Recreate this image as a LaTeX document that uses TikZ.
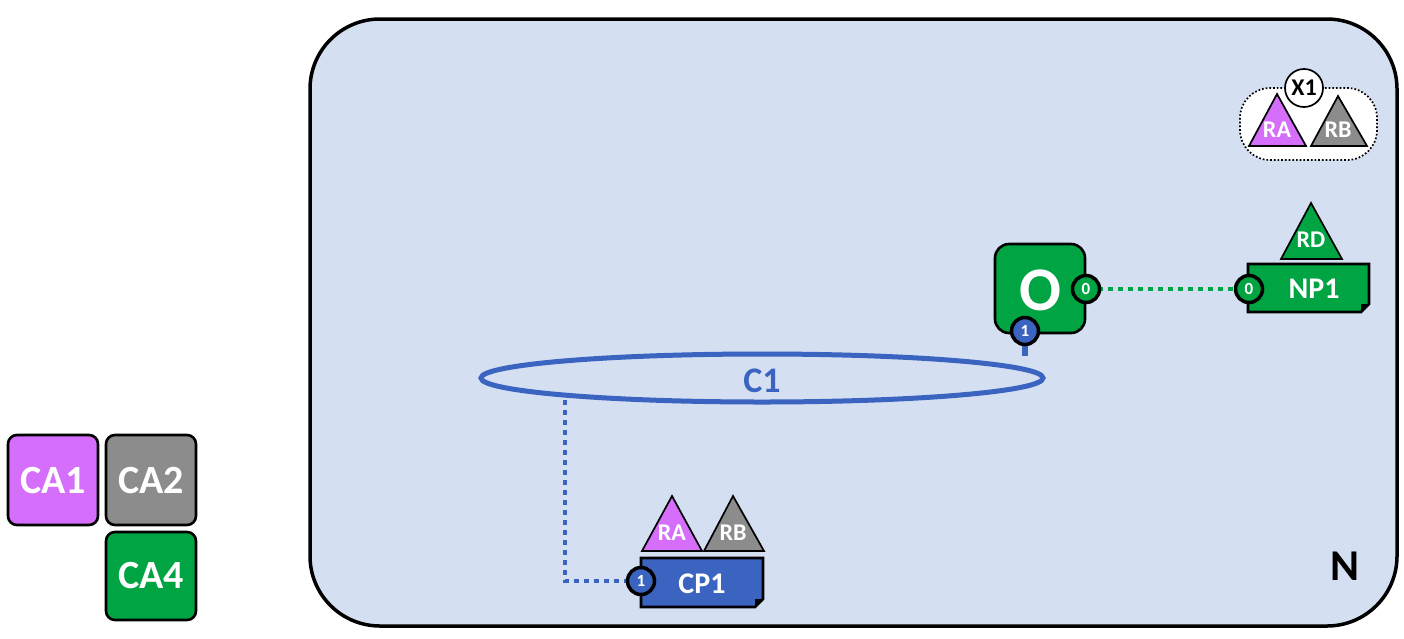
\documentclass[tikz,border=0pt]{standalone}
\usepackage{fontspec}
\setmainfont{Carlito}
\begin{document}
\begin{tikzpicture}[x=1pt,y=-1pt,
 lbl/.style={text=white,font=\bfseries},
 box/.style={draw=black,line width=2.6pt,rounded corners=9pt},
 port/.style={circle,draw=black,line width=3.5pt,minimum size=27pt,inner sep=0pt,text=white,font=\bfseries\fontsize{17}{17}\selectfont},
 tri/.style={draw=black,line width=1.7pt},
 dots/.style={line width=4.5pt,dash pattern=on 5pt off 5pt}]
\definecolor{bg}{HTML}{D4DFF1}
\definecolor{vio}{HTML}{D46EFB}
\definecolor{gry}{HTML}{8C8C8C}
\definecolor{grn}{HTML}{00A442}
\definecolor{blu}{HTML}{3A64C0}
\useasboundingbox (0,0) rectangle (1404,638);
\draw[fill=bg,line width=3.5pt,rounded corners=70pt] (310,19) rectangle (1397,626);
\node[font=\bfseries\fontsize{44}{44}\selectfont] (N) at (1345,566) {N};
% legend
\draw[box,fill=vio] (8,435) rectangle (98,525); \node[lbl,font=\bfseries\fontsize{40}{40}\selectfont] (ca1) at (53,481) {CA1};
\draw[box,fill=gry] (106,435) rectangle (196,525); \node[lbl,font=\bfseries\fontsize{40}{40}\selectfont] (ca2) at (151,481) {CA2};
\draw[box,fill=grn] (106,532) rectangle (196,620); \node[lbl,font=\bfseries\fontsize{40}{40}\selectfont] (ca4) at (151,576) {CA4};
% X1 group
\draw[fill=white,dotted,line width=1.7pt,rounded corners=30pt] (1240,88) rectangle (1377,160);
\draw[tri,fill=vio] (1277,94) -- (1249,146) -- (1306,146) -- cycle;
\node[lbl,font=\bfseries\fontsize{24}{24}\selectfont] (xra) at (1277,130) {RA};
\draw[tri,fill=gry] (1338,96) -- (1311,146) -- (1367,146) -- cycle;
\node[lbl,font=\bfseries\fontsize{24}{24}\selectfont] (xrb) at (1338,130) {RB};
\node[circle,draw=black,fill=white,line width=1.7pt,minimum size=38pt,inner sep=0pt,font=\bfseries\fontsize{24}{24}\selectfont] (X1) at (1304,88) {X1};
% O
\draw[box,fill=grn,rounded corners=14pt] (995,244) rectangle (1085,333);
\node[lbl,font=\bfseries\fontsize{62}{62}\selectfont] (O) at (1040,290) {O};
% NP1
\draw[fill=grn,line width=2.6pt] (1248,264) -- (1369,264) -- (1369,304) -- (1361,312) -- (1248,312) -- cycle;
\fill[black] (1369,304) -- (1361,312) -- (1361,304) -- cycle;
\node[lbl,font=\bfseries\fontsize{30}{30}\selectfont] (NP1) at (1314,289) {NP1};
\draw[tri,fill=grn] (1311,203) -- (1281,259) -- (1342,259) -- cycle;
\node[lbl,font=\bfseries\fontsize{24}{24}\selectfont] (RD) at (1311,240) {RD};
% ellipse
\draw[blu,line width=5pt] (762,378) ellipse (281 and 24);
\node[text=blu,font=\bfseries\fontsize{36}{36}\selectfont] (C1) at (762,381) {C1};
\coordinate (ctop) at (1025,356);
\coordinate (cbot) at (565,400);
% CP1
\draw[fill=blu,line width=2.6pt] (641,558) -- (763,558) -- (763,599) -- (755,607) -- (641,607) -- cycle;
\fill[black] (763,599) -- (755,607) -- (755,599) -- cycle;
\node[lbl,font=\bfseries\fontsize{30}{30}\selectfont] (CP1) at (702,584) {CP1};
\draw[tri,fill=vio] (672,496) -- (642,551) -- (702,551) -- cycle;
\node[lbl,font=\bfseries\fontsize{24}{24}\selectfont] (ra) at (672,533) {RA};
\draw[tri,fill=gry] (733,496) -- (704,551) -- (764,551) -- cycle;
\node[lbl,font=\bfseries\fontsize{24}{24}\selectfont] (rb) at (733,533) {RB};
% connectors
\coordinate (bend) at (565,581);
\draw[grn,dots] (1098,289) -- (1237,289);
\draw[blu,line width=6pt] (1025,343) -- (ctop);
\draw[blu,dots,line width=4pt] (cbot) -- (bend) -- (629,581);
\node[port,fill=grn] (po0) at (1086,289) {0};
\node[port,fill=grn] (pn0) at (1249,289) {0};
\node[port,fill=blu] (po1) at (1025,331) {1};
\node[port,fill=blu] (pc1) at (641,581) {1};
\end{tikzpicture}
\end{document}
